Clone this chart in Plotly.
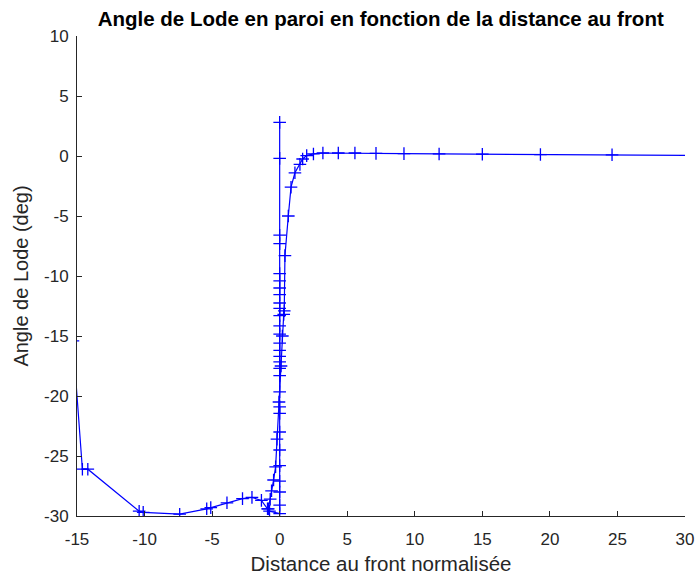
import plotly.graph_objects as go

# Trace 1: left branch, then vertical column of points at the front (x = 0)
x_left = [-15.3, -14.6, -14.2, -10.4, -10.1, -7.4, -5.4, -5.1, -3.9, -2.75, -2.05, -1.35,
          -0.9, -0.75, 0.0, 0.0, 0.0, 0.0, 0.0, 0.0, 0.0, 0.0, 0.0, 0.0, 0.0, 0.0, 0.0,
          0.0, 0.0, 0.0, 0.0, 0.0, 0.0, 0.0, 0.0, 0.0, 0.0, 0.0, 0.0, 0.0, 0.0, 0.0, 0.0]
y_left = [-15.4, -26.1, -26.1, -29.6, -29.7, -29.85, -29.4, -29.3, -28.9, -28.55, -28.45, -28.7,
          -29.4, -29.6, -29.8, -29.1, -28.0, -27.1, -25.8, -24.5, -23.0, -21.45, -20.9,
          -19.65, -18.3, -17.7, -17.15, -16.7, -16.2, -15.6, -14.85, -14.15, -13.3, -12.7,
          -12.25, -11.55, -11.0, -10.4, -9.8, -7.3, -6.6, -0.2, 2.8]

# Trace 2: steep rise just behind the front, then plateau ahead of the front
x_right = [-0.84, -0.7, -0.6, -0.45, -0.3, -0.2, -0.05, 0.1, 0.2, 0.3, 0.34, 0.39, 0.64,
           0.84, 1.13, 1.5, 1.7, 2.0, 2.5, 3.2, 4.34, 5.57, 7.13, 9.2, 11.8, 15.0, 19.3,
           24.6, 32.0]
y_right = [-29.4, -28.6, -27.9, -27.0, -25.9, -23.6, -20.5, -17.5, -15.0, -13.2, -12.9,
           -8.3, -5.0, -2.6, -1.4, -0.7, -0.25, 0.03, 0.17, 0.25, 0.25, 0.25, 0.22, 0.2,
           0.17, 0.15, 0.12, 0.1, 0.03]

x_ticks = [-15, -10, -5, 0, 5, 10, 15, 20, 25, 30]
y_ticks = [-30, -25, -20, -15, -10, -5, 0, 5, 10]

FONT = "Liberation Sans, Arial, sans-serif"
marker = dict(symbol="cross-thin", size=9, line=dict(color="#0000ff", width=1.3))

fig = go.Figure()
for xs, ys in [(x_left, y_left), (x_right, y_right)]:
    fig.add_trace(go.Scatter(x=xs, y=ys, mode="lines+markers",
                             line=dict(color="#0000ff", width=1.2),
                             marker=marker, showlegend=False))

axis_common = dict(showline=True, linecolor="#262626", linewidth=1,
                   ticks="inside", ticklen=5, tickcolor="#262626",
                   showgrid=False, zeroline=False, mirror=False, automargin=False,
                   tickfont=dict(family=FONT, size=17, color="#262626"))

fig.update_layout(
    width=696, height=575,
    margin=dict(l=77, r=11, t=36, b=59),
    paper_bgcolor="white", plot_bgcolor="white",
    title=dict(text="<b>Angle de Lode en paroi en fonction de la distance au front</b>",
               x=0.547, xanchor="center", y=0.968, yanchor="middle",
               font=dict(family=FONT, size=20.5, color="black")),
    xaxis=dict(range=[-15, 30], tickvals=x_ticks, ticktext=[str(v) for v in x_ticks],
               ticklabelstandoff=8,
               title=dict(text="Distance au front normalisée", standoff=9,
                          font=dict(family=FONT, size=20.5, color="#262626")),
               **axis_common),
    yaxis=dict(range=[-30, 10], tickvals=y_ticks, ticktext=[str(v) for v in y_ticks],
               ticklabelstandoff=4,
               title=dict(text="Angle de Lode (deg)", standoff=10,
                          font=dict(family=FONT, size=20, color="#262626")),
               **axis_common),
)

fig.write_html("out.html", config={"displayModeBar": False},
               post_script="document.body.style.margin='0';")
